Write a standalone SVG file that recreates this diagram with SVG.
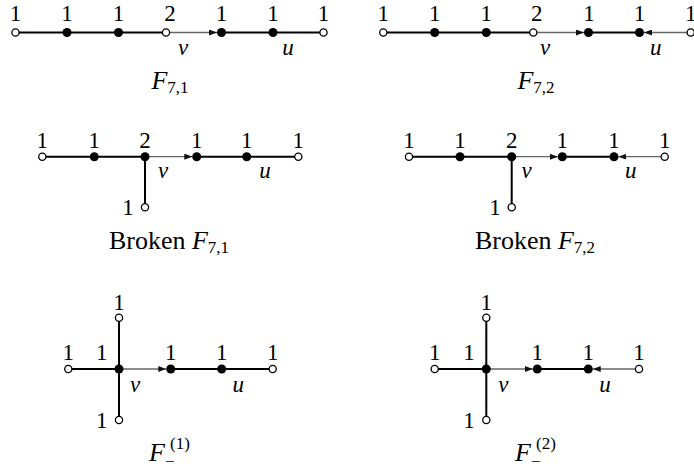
<svg xmlns="http://www.w3.org/2000/svg" width="694" height="471" viewBox="0 0 694 471">
<style>
.thick{stroke:#000;stroke-width:2;fill:none}
.thin{stroke:#666;stroke-width:1.3;fill:none;marker-end:url(#arr)}
.open{fill:#fff;stroke:#000;stroke-width:1.3}
.full{fill:#000}
text{font-family:"Liberation Serif","Times New Roman",serif;font-size:23px;fill:#000;text-anchor:middle}
.it{font-style:italic}
.sub{font-size:17px;font-style:normal}
.cap{text-anchor:start}
.big{font-size:26px}
</style>
<defs>
<marker id="arr" viewBox="0 0 8 6" refX="8" refY="3" markerWidth="8" markerHeight="6" markerUnits="userSpaceOnUse" orient="auto">
<path d="M0,0 L8,3 L0,6 z" fill="#111"/>
</marker>
</defs>
<rect width="694" height="471" fill="#fff"/>

<g id="connectors">
<path class="thick" d="M15.5,32.5 H166"/>
<path class="thin" d="M166,32.5 H217"/>
<path class="thick" d="M221.5,32.5 H323.5"/>
<path class="thick" d="M383.3,32.5 H533.3"/>
<path class="thin" d="M533.3,32.5 H584"/>
<path class="thick" d="M588.5,32.5 H639.5"/>
<path class="thin" d="M690.7,32.5 H644"/>
<path class="thick" d="M42.3,156.7 H145 V207.3"/>
<path class="thin" d="M145,156.7 H192.3"/>
<path class="thick" d="M196.7,156.7 H298.3"/>
<path class="thick" d="M409,156.7 H511.7 V207.3"/>
<path class="thin" d="M511.7,156.7 H557.9"/>
<path class="thick" d="M562.3,156.7 H614"/>
<path class="thin" d="M664.7,156.7 H618.4"/>
<path class="thick" d="M68.3,369 H119 M119,317.7 V420"/>
<path class="thin" d="M119,369 H166.3"/>
<path class="thick" d="M170.7,369 H272.7"/>
<path class="thick" d="M434.7,369 H486.3 M486.3,317.7 V420"/>
<path class="thin" d="M486.3,369 H532.9"/>
<path class="thick" d="M537.3,369 H588.3"/>
<path class="thin" d="M639,369 H592.7"/>
</g>

<g id="f71-n1"><circle class="open" cx="15.5" cy="32.5" r="3.6"/><text x="15.5" y="20.5">1</text></g>
<g id="f71-n2"><circle class="full" cx="67" cy="32.5" r="4.5"/><text x="67" y="20.5">1</text></g>
<g id="f71-n3"><circle class="full" cx="118.5" cy="32.5" r="4.5"/><text x="118.5" y="20.5">1</text></g>
<g id="f71-v"><circle class="open" cx="166" cy="32.5" r="3.6"/><text x="170" y="20.5">2</text><text class="it" x="183" y="55">v</text></g>
<g id="f71-n5"><circle class="full" cx="221.5" cy="32.5" r="4.5"/><text x="221.5" y="20.5">1</text></g>
<g id="f71-u"><circle class="full" cx="273" cy="32.5" r="4.5"/><text x="273" y="20.5">1</text><text class="it" x="288" y="55">u</text></g>
<g id="f71-n7"><circle class="open" cx="323.5" cy="32.5" r="3.6"/><text x="323.5" y="20.5">1</text></g>
<text id="cap-f71" class="big" x="170" y="89"><tspan class="it">F</tspan><tspan class="sub" dy="4">7,1</tspan></text>

<g id="f72-n1"><circle class="open" cx="383.3" cy="32.5" r="3.6"/><text x="383.3" y="20.5">1</text></g>
<g id="f72-n2"><circle class="full" cx="434.7" cy="32.5" r="4.5"/><text x="434.7" y="20.5">1</text></g>
<g id="f72-n3"><circle class="full" cx="486.3" cy="32.5" r="4.5"/><text x="486.3" y="20.5">1</text></g>
<g id="f72-v"><circle class="open" cx="533.3" cy="32.5" r="3.6"/><text x="536.7" y="20.5">2</text><text class="it" x="545" y="55">v</text></g>
<g id="f72-n5"><circle class="full" cx="588.5" cy="32.5" r="4.5"/><text x="589" y="20.5">1</text></g>
<g id="f72-u"><circle class="full" cx="639.5" cy="32.5" r="4.5"/><text x="639.5" y="20.5">1</text><text class="it" x="655.7" y="55">u</text></g>
<g id="f72-n7"><circle class="open" cx="690.7" cy="32.5" r="3.6"/><text x="690.7" y="20.5">1</text></g>
<text id="cap-f72" class="big" x="536" y="89"><tspan class="it">F</tspan><tspan class="sub" dy="4">7,2</tspan></text>

<g id="bf71-n1"><circle class="open" cx="42.3" cy="156.7" r="3.6"/><text x="42.3" y="148.3">1</text></g>
<g id="bf71-n2"><circle class="full" cx="94.3" cy="156.7" r="4.5"/><text x="94.3" y="148.3">1</text></g>
<g id="bf71-v"><circle class="full" cx="145" cy="156.7" r="4.5"/><text x="145" y="148.3">2</text><text class="it" x="163" y="178">v</text></g>
<g id="bf71-n4"><circle class="full" cx="196.7" cy="156.7" r="4.5"/><text x="196.7" y="148.3">1</text></g>
<g id="bf71-u"><circle class="full" cx="246.7" cy="156.7" r="4.5"/><text x="246.7" y="148.3">1</text><text class="it" x="265" y="178">u</text></g>
<g id="bf71-n6"><circle class="open" cx="298.3" cy="156.7" r="3.6"/><text x="298.3" y="148.3">1</text></g>
<g id="bf71-b"><circle class="open" cx="145" cy="207.3" r="3.6"/><text x="128" y="215">1</text></g>
<text id="cap-bf71" class="big" x="169" y="249">Broken <tspan class="it">F</tspan><tspan class="sub" dy="4">7,1</tspan></text>

<g id="bf72-n1"><circle class="open" cx="409" cy="156.7" r="3.6"/><text x="409" y="148.3">1</text></g>
<g id="bf72-n2"><circle class="full" cx="460" cy="156.7" r="4.5"/><text x="460" y="148.3">1</text></g>
<g id="bf72-v"><circle class="full" cx="511.7" cy="156.7" r="4.5"/><text x="511.7" y="148.3">2</text><text class="it" x="526.7" y="178">v</text></g>
<g id="bf72-n4"><circle class="full" cx="562.3" cy="156.7" r="4.5"/><text x="562.3" y="148.3">1</text></g>
<g id="bf72-u"><circle class="full" cx="614" cy="156.7" r="4.5"/><text x="614" y="148.3">1</text><text class="it" x="630.7" y="178">u</text></g>
<g id="bf72-n6"><circle class="open" cx="664.7" cy="156.7" r="3.6"/><text x="664.7" y="148.3">1</text></g>
<g id="bf72-b"><circle class="open" cx="511.7" cy="207.3" r="3.6"/><text x="495" y="215">1</text></g>
<text id="cap-bf72" class="big" x="535" y="249">Broken <tspan class="it">F</tspan><tspan class="sub" dy="4">7,2</tspan></text>

<g id="fm1-l"><circle class="open" cx="68.3" cy="369" r="3.6"/><text x="68.3" y="360">1</text></g>
<g id="fm1-v"><circle class="full" cx="119" cy="369" r="4.5"/><text x="101.7" y="360">1</text><text class="it" x="135" y="391.7">v</text></g>
<g id="fm1-t"><circle class="open" cx="119" cy="317.7" r="3.6"/><text x="119" y="310">1</text></g>
<g id="fm1-b"><circle class="open" cx="119" cy="420" r="3.6"/><text x="101.7" y="428">1</text></g>
<g id="fm1-n3"><circle class="full" cx="170.7" cy="369" r="4.5"/><text x="170.7" y="360">1</text></g>
<g id="fm1-u"><circle class="full" cx="221.7" cy="369" r="4.5"/><text x="221.7" y="360">1</text><text class="it" x="238.3" y="391.7">u</text></g>
<g id="fm1-r"><circle class="open" cx="272.7" cy="369" r="3.6"/><text x="272.7" y="360">1</text></g>
<g id="cap-fm1">
<text class="it cap big" x="149" y="461">F</text>
<text class="sub cap" x="165" y="467">−</text>
<text class="sub cap" x="170" y="449">(1)</text>
</g>

<g id="fm2-l"><circle class="open" cx="434.7" cy="369" r="3.6"/><text x="434.7" y="360">1</text></g>
<g id="fm2-v"><circle class="full" cx="486.3" cy="369" r="4.5"/><text x="469" y="360">1</text><text class="it" x="503.3" y="391.7">v</text></g>
<g id="fm2-t"><circle class="open" cx="486.3" cy="317.7" r="3.6"/><text x="486.3" y="310">1</text></g>
<g id="fm2-b"><circle class="open" cx="486.3" cy="420" r="3.6"/><text x="469" y="428">1</text></g>
<g id="fm2-n3"><circle class="full" cx="537.3" cy="369" r="4.5"/><text x="537.3" y="360">1</text></g>
<g id="fm2-u"><circle class="full" cx="588.3" cy="369" r="4.5"/><text x="588.3" y="360">1</text><text class="it" x="605" y="391.7">u</text></g>
<g id="fm2-r"><circle class="open" cx="639" cy="369" r="3.6"/><text x="639" y="360">1</text></g>
<g id="cap-fm2">
<text class="it cap big" x="515" y="461">F</text>
<text class="sub cap" x="531" y="467">−</text>
<text class="sub cap" x="536" y="449">(2)</text>
</g>
</svg>
